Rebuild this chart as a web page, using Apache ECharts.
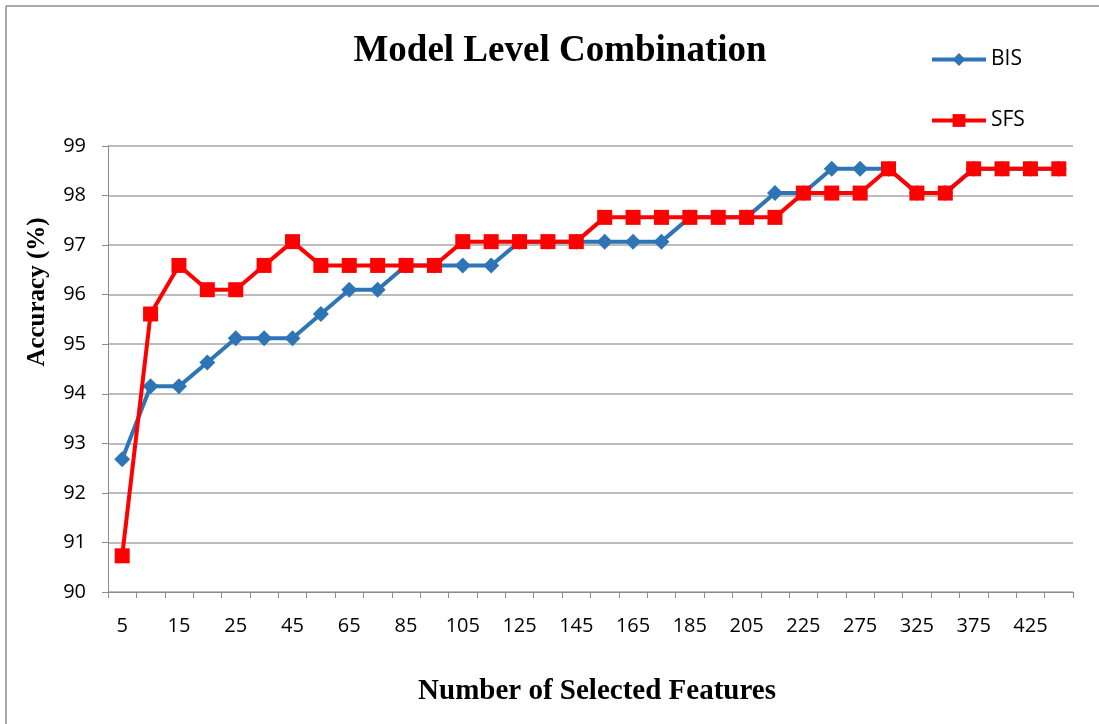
<!DOCTYPE html>
<html>
<head>
<meta charset="utf-8">
<script src="https://cdn.jsdelivr.net/npm/echarts@6/dist/echarts.min.js"></script>
<style>
html,body{margin:0;padding:0;background:#fff;}
#chart{width:1099px;height:724px;}
</style>
</head>
<body>
<div id="chart"></div>
<script>
const categories = ['5','10','15','20','25','35','45','55','65','75','85','95','105','115','125','135','145','155','165','175','185','195','205','215','225','250','275','300','325','350','375','400','425','450'];
const bisValues = [92.68,94.15,94.15,94.63,95.12,95.12,95.12,95.61,96.10,96.10,96.59,96.59,96.59,96.59,97.07,97.07,97.07,97.07,97.07,97.07,97.56,97.56,97.56,98.05,98.05,98.54,98.54,98.54,98.05,98.05,98.54,98.54,98.54,98.54];
const sfsValues = [90.73,95.61,96.59,96.10,96.10,96.59,97.07,96.59,96.59,96.59,96.59,96.59,97.07,97.07,97.07,97.07,97.07,97.56,97.56,97.56,97.56,97.56,97.56,97.56,98.05,98.05,98.05,98.54,98.05,98.05,98.54,98.54,98.54,98.54];
const yTicks = [90,91,92,93,94,95,96,97,98,99];

const chart = echarts.init(document.getElementById('chart'), null, {renderer:'canvas'});
const labelFont = "'Open Sans','Liberation Sans',sans-serif";
const serif = "'Liberation Serif','DejaVu Serif',serif";
chart.setOption({
  animation:false,
  backgroundColor:'#fff',
  graphic:[
    {type:'group',silent:true,children:[
      {type:'line',shape:{x1:6,y1:6,x2:1099,y2:6},style:{stroke:'#8c8c8c',lineWidth:1.5}},
      {type:'line',shape:{x1:6,y1:6,x2:6,y2:724},style:{stroke:'#8c8c8c',lineWidth:1.5}}
    ]},
    {type:'text',x:38,y:292,rotation:Math.PI/2,
      style:{text:'Accuracy (%)',fontFamily:serif,fontWeight:'bold',fontSize:25,fill:'#000',textAlign:'center',textVerticalAlign:'middle'}},
    {type:'text',x:597,y:692,
      style:{text:'Number of Selected Features',fontFamily:serif,fontWeight:'bold',fontSize:29,fill:'#000',textAlign:'center',textVerticalAlign:'middle'}}
  ],
  title:{text:'Model Level Combination',left:555,top:28,textAlign:'center',
    textStyle:{fontFamily:serif,fontWeight:'bold',fontSize:37,color:'#000'}},
  legend:{orient:'vertical',left:925,top:44,itemWidth:54,itemHeight:16,itemGap:40,
    lineStyle:{width:4},
    textStyle:{fontFamily:labelFont,fontSize:21,color:'#000'},
    data:['BIS','SFS']},
  grid:{left:108,right:26,top:146,bottom:132,containLabel:false},
  xAxis:{type:'category',data:categories,boundaryGap:true,
    axisLine:{lineStyle:{color:'#8c8c8c',width:1}},
    axisTick:{show:true,interval:0,length:6,lineStyle:{color:'#8c8c8c'}},
    axisLabel:{interval:1,margin:24,fontFamily:labelFont,fontSize:20,color:'#000'},
    splitLine:{show:false}},
  yAxis:{type:'value',min:yTicks[0],max:yTicks[yTicks.length-1],interval:1,
    axisLine:{show:true,lineStyle:{color:'#8c8c8c',width:1}},
    axisTick:{show:true,length:6,inside:false,lineStyle:{color:'#8c8c8c'}},
    axisLabel:{margin:22,fontFamily:labelFont,fontSize:20,color:'#000'},
    splitLine:{show:true,lineStyle:{color:'#a6a6a6',width:1.5}}},
  series:[
    {name:'BIS',type:'line',data:bisValues,symbol:'diamond',symbolSize:16,
      lineStyle:{color:'#2E75B6',width:4},itemStyle:{color:'#2E75B6'},z:2},
    {name:'SFS',type:'line',data:sfsValues,symbol:'rect',symbolSize:15,
      lineStyle:{color:'#FF0000',width:4},itemStyle:{color:'#FF0000'},z:3}
  ]
});
</script>
</body>
</html>
